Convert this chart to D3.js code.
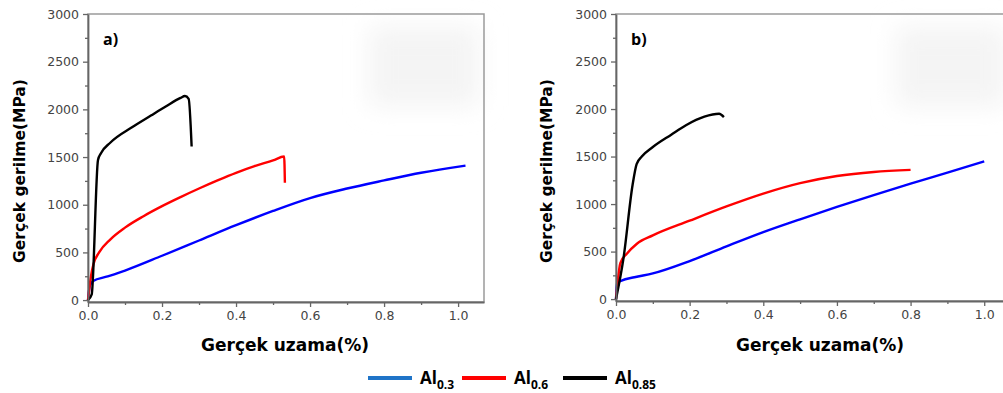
<!DOCTYPE html>
<html>
<head>
<meta charset="utf-8">
<script src="https://cdn.jsdelivr.net/npm/d3@7/dist/d3.min.js"></script>
<style>
  body { margin: 0; background: #fff; }
  svg text { font-family: "DejaVu Sans", Verdana, sans-serif; }
</style>
</head>
<body>
<div id="chart"></div>
<script>
// strain (%) / stress (MPa) pairs
// panel a)
const al03A = [[0,0],[0.005,150],[0.014,200],[0.05,245],[0.1,310],[0.2,465],[0.3,625],[0.4,785],[0.5,935],[0.6,1070],[0.7,1170],[0.8,1255],[0.9,1335],[1.02,1410]]
const al06A = [[0,0],[0.008,250],[0.015,380],[0.03,500],[0.06,635],[0.1,760],[0.15,880],[0.2,985],[0.25,1080],[0.3,1170],[0.35,1255],[0.4,1335],[0.45,1405],[0.5,1465],[0.53,1505],[0.532,1230]]
const al085A = [[0,0],[0.01,60],[0.027,1470],[0.035,1540],[0.06,1650],[0.12,1815],[0.17,1935],[0.21,2030],[0.25,2120],[0.262,2140],[0.272,2110],[0.28,1610]]
// panel b)
const al03B = [[0,0],[0.003,170],[0.015,195],[0.05,230],[0.1,270],[0.2,400],[0.3,555],[0.4,705],[0.5,840],[0.6,970],[0.7,1095],[0.8,1215],[0.9,1330],[1.0,1450]]
const al06B = [[0,0],[0.005,200],[0.012,380],[0.03,480],[0.056,580],[0.1,670],[0.2,825],[0.3,975],[0.4,1110],[0.5,1220],[0.6,1295],[0.7,1338],[0.8,1360]]
const al085B = [[0,0],[0.02,420],[0.045,1200],[0.056,1420],[0.07,1500],[0.1,1600],[0.15,1730],[0.19,1830],[0.24,1920],[0.28,1950],[0.293,1915]]

const seriesSub = ["0.3", "0.6", "0.85"]
const lineColors = ["#0000ff", "#ff0000", "#000000"]
const legendColors = ["#1f74c8", "#ff0000", "#000000"]

const xTicks = [0, 0.2, 0.4, 0.6, 0.8, 1.0]
const xMinor = [0.1, 0.3, 0.5, 0.7, 0.9]
const yTicks = [0, 500, 1000, 1500, 2000, 2500, 3000]
const yMinor = [250, 750, 1250, 1750, 2250, 2750]

const xTitle = "Gerçek uzama(%)"
const yTitle = "Gerçek gerilme(MPa)"

const panels = [
  { label: "a)", series: [al03A, al06A, al085A], x0: 88, x1: 484, y0: 302, y1: 14, ytx: 20, xtx: 285 },
  { label: "b)", series: [al03B, al06B, al085B], x0: 616, x1: 1010, y0: 301, y1: 14, ytx: 547, xtx: 820 },
]

const width = 1003, height = 393

const svg = d3.select("#chart").append("svg")
  .attr("width", width)
  .attr("height", height)

const defs = svg.append("defs")
defs.append("filter")
  .attr("id", "blur")
  .attr("x", "-50%").attr("y", "-50%").attr("width", "200%").attr("height", "200%")
  .append("feGaussianBlur")
  .attr("stdDeviation", 12)

panels.forEach(function(p) {
  const x = d3.scaleLinear().domain([0, 1.07]).range([p.x0, p.x1])
  const y = d3.scaleLinear().domain([-20, 3000]).range([p.y0, p.y1])
  const g = svg.append("g")

  // faint grey smudge top-right (inset remnants in the source image)
  g.append("rect")
    .attr("x", x(0.76)).attr("y", y(2870))
    .attr("width", 110).attr("height", 80)
    .attr("fill", "#f4f4f4")
    .attr("filter", "url(#blur)")

  // frame
  g.append("rect")
    .attr("x", p.x0).attr("y", p.y1)
    .attr("width", p.x1 - p.x0).attr("height", p.y0 - p.y1)
    .attr("fill", "none")
    .attr("stroke", "#9a9a9a")
    .attr("stroke-width", 1.5)

  const line = d3.line()
    .x(d => x(d[0]))
    .y(d => y(d[1]))
    .curve(d3.curveMonotoneX)

  g.selectAll("path.curve")
    .data(p.series)
    .join("path")
      .attr("class", "curve")
      .attr("d", line)
      .attr("fill", "none")
      .attr("stroke", (d, i) => lineColors[i])
      .attr("stroke-width", 2.4)
      .attr("stroke-linejoin", "round")

  // axes
  g.append("g")
    .attr("transform", "translate(0," + p.y0 + ")")
    .call(d3.axisBottom(x).tickValues(xTicks).tickFormat(d3.format(".1f")).tickSize(5).tickSizeOuter(0).tickPadding(4))
  g.append("g")
    .attr("transform", "translate(0," + p.y0 + ")")
    .call(d3.axisBottom(x).tickValues(xMinor).tickFormat("").tickSize(3).tickSizeOuter(0))
    .select(".domain").remove()

  g.append("g")
    .attr("transform", "translate(" + p.x0 + ",0)")
    .call(d3.axisLeft(y).tickValues(yTicks).tickFormat(d3.format("d")).tickSize(5).tickSizeOuter(0).tickPadding(4))
  g.append("g")
    .attr("transform", "translate(" + p.x0 + ",0)")
    .call(d3.axisLeft(y).tickValues(yMinor).tickFormat("").tickSize(3).tickSizeOuter(0))
    .select(".domain").remove()

  g.selectAll(".domain").attr("stroke", "#666").attr("stroke-width", 1.8)
  g.selectAll(".tick line").attr("stroke", "#666").attr("stroke-width", 1.3)
  g.selectAll(".tick text")
    .attr("fill", "#444")
    .style("font-size", "12.5px")

  // titles
  g.append("text")
    .attr("transform", "translate(" + p.ytx + ",171) rotate(-90)")
    .attr("text-anchor", "middle")
    .attr("dy", "0.35em")
    .style("font-size", "15.5px")
    .style("font-weight", "bold")
    .text(yTitle)

  g.append("text")
    .attr("x", p.xtx).attr("y", 351)
    .attr("text-anchor", "middle")
    .style("font-size", "17px")
    .style("font-weight", "bold")
    .text(xTitle)

  g.append("text")
    .attr("x", p.x0 + 15).attr("y", 45)
    .style("font-family", "'Open Sans', sans-serif")
    .style("font-size", "16px")
    .style("font-weight", "bold")
    .text(p.label)
})

// legend
const legendX = [368, 462, 563]
const legend = svg.append("g")
  .selectAll("g")
  .data(seriesSub)
  .join("g")
    .attr("transform", (d, i) => "translate(" + legendX[i] + ",378)")

legend.append("line")
  .attr("x1", 0).attr("x2", 44)
  .attr("stroke", (d, i) => legendColors[i])
  .attr("stroke-width", 4)

const lt = legend.append("text")
  .attr("x", 52).attr("y", 6)
  .style("font-family", "'Open Sans', sans-serif")
  .style("font-weight", "bold")
  .style("font-size", "17px")
lt.append("tspan").text("Al")
lt.append("tspan")
  .attr("dy", 5)
  .style("font-size", "12px")
  .text(d => d)
</script>
</body>
</html>
